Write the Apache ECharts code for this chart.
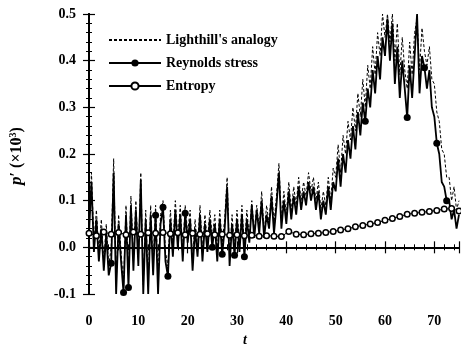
<!DOCTYPE html>
<html>
<head>
<meta charset="utf-8">
<script src="https://cdn.jsdelivr.net/npm/echarts@6/dist/echarts.min.js"></script>
<style>
  html, body { margin: 0; padding: 0; background: #fff; }
  #chart { width: 461px; height: 347px; }
</style>
</head>
<body>
<div id="chart"></div>
<script>
// Time grid of the fluctuation signals (t = 0 .. 75)
const signalStart = 0;
const signalStep = 0.5;

// Lighthill's analogy (dashed)
const lighthill = [
  0.04, 0.16, 0.01, 0.08, -0.01, 0.06, -0.03, 0.05, -0.04, 0.00,
  0.19, -0.08, 0.07, -0.01, -0.08, 0.09, -0.06, 0.11, -0.03, 0.10,
  -0.02, 0.16, -0.08, 0.08, -0.08, 0.09, -0.04, 0.09, -0.07, 0.07,
  0.10, -0.01, -0.04, 0.08, 0.00, 0.10, 0.02, 0.09, -0.01, 0.09,
  0.03, 0.08, -0.03, 0.06, 0.00, 0.09, -0.01, 0.07, 0.01, 0.08,
  0.02, 0.07, -0.01, 0.08, 0.01, 0.06, 0.15, -0.02, 0.07, 0.00,
  0.08, 0.01, 0.09, 0.00, 0.08, 0.02, 0.10, 0.03, 0.09, 0.04,
  0.12, 0.03, 0.09, 0.05, 0.13, 0.05, 0.11, 0.18, 0.06, 0.12,
  0.07, 0.14, 0.08, 0.13, 0.09, 0.15, 0.10, 0.14, 0.11, 0.16,
  0.12, 0.15, 0.10, 0.14, 0.08, 0.12, 0.09, 0.15, 0.10, 0.17,
  0.15, 0.22, 0.16, 0.24, 0.20, 0.27, 0.23, 0.30, 0.25, 0.33,
  0.28, 0.36, 0.30, 0.39, 0.34, 0.43, 0.37, 0.46, 0.41, 0.50,
  0.45, 0.50, 0.44, 0.50, 0.40, 0.48, 0.37, 0.45, 0.38, 0.34,
  0.44, 0.37, 0.46, 0.49, 0.38, 0.47, 0.42, 0.39, 0.43, 0.36,
  0.35, 0.29, 0.27, 0.21, 0.20, 0.15, 0.15, 0.10, 0.13, 0.08,
  0.10
];

// Reynolds stress (solid with filled markers)
const reynolds = [
  0.03, 0.14, -0.01, 0.06, -0.03, 0.04, -0.05, 0.03, -0.06, -0.034,
  0.16, -0.10, 0.05, -0.03, -0.097, 0.07, -0.086, 0.09, -0.05, 0.08,
  -0.04, 0.145, -0.10, 0.06, -0.10, 0.07, -0.06, 0.069, -0.10, 0.05,
  0.086, -0.03, -0.062, 0.06, -0.02, 0.08, 0.00, 0.07, -0.03, 0.073,
  0.01, 0.06, -0.05, 0.04, -0.02, 0.07, -0.03, 0.05, -0.01, 0.06,
  0.00, 0.05, -0.03, 0.06, -0.015, 0.04, 0.13, -0.04, 0.05, -0.017,
  0.06, -0.01, 0.07, -0.02, 0.06, 0.01, 0.09, 0.02, 0.08, 0.03,
  0.10, 0.02, 0.07, 0.04, 0.11, 0.03, 0.09, 0.16, 0.04, 0.10,
  0.05, 0.12, 0.06, 0.11, 0.07, 0.13, 0.08, 0.12, 0.09, 0.14,
  0.10, 0.13, 0.08, 0.12, 0.06, 0.10, 0.07, 0.13, 0.08, 0.14,
  0.12, 0.19, 0.13, 0.20, 0.16, 0.23, 0.19, 0.26, 0.21, 0.29,
  0.24, 0.31, 0.27, 0.34, 0.30, 0.38, 0.33, 0.41, 0.36, 0.45,
  0.41, 0.49, 0.40, 0.48, 0.35, 0.43, 0.32, 0.40, 0.34, 0.278,
  0.39, 0.32, 0.41, 0.50, 0.33, 0.41, 0.385, 0.34, 0.38, 0.30,
  0.28, 0.223, 0.20, 0.14, 0.13, 0.10, 0.10, 0.06, 0.08, 0.04,
  0.07
];

// Times at which the Reynolds-stress curve carries a filled marker
const reynoldsMarkerTimes = [4.5, 7, 8, 13.5, 15, 16, 19.5, 25, 27, 29.5, 31.5, 56, 64.5, 68, 70.5, 72.5];

// Entropy contribution (open circles), sampled every 1.5
const entropyStart = 0;
const entropyStep = 1.5;
const entropy = [
  0.030, 0.025, 0.033, 0.028, 0.032, 0.027, 0.033, 0.028, 0.031, 0.030,
  0.032, 0.029, 0.031, 0.027, 0.030, 0.028, 0.029, 0.027, 0.028, 0.026,
  0.027, 0.025, 0.026, 0.024, 0.025, 0.024, 0.023, 0.034, 0.028, 0.027,
  0.029, 0.030, 0.032, 0.034, 0.037, 0.040, 0.044, 0.047, 0.050, 0.053,
  0.058, 0.062, 0.066, 0.071, 0.073, 0.075, 0.077, 0.079, 0.082, 0.083,
  0.078
];

// Axis ticks
const xTicks = { min: 0, max: 75, interval: 10 };
const yTicks = { min: -0.1, max: 0.5, interval: 0.1 };

const SERIF = '"Liberation Serif", "DejaVu Serif", serif';

function toPairs(values, start, step) {
  return values.map((v, i) => [start + i * step, v]);
}

const markerSet = new Set(reynoldsMarkerTimes.map(t => Math.round((t - signalStart) / signalStep)));
const reynoldsData = reynolds.map((v, i) => ({
  value: [signalStart + i * signalStep, v],
  symbol: markerSet.has(i) ? 'circle' : 'none'
}));

const chart = echarts.init(document.getElementById('chart'), null, { renderer: 'canvas' });

const tickCommon = {
  axisLine: { show: true, lineStyle: { color: '#000', width: 2 } },
  axisTick: { show: true, inside: true, length: 6, lineStyle: { color: '#000', width: 1.2 } },
  minorTick: { show: true, splitNumber: 5, length: 3, lineStyle: { color: '#000', width: 1 } },
  splitLine: { show: false },
  minorSplitLine: { show: false }
};

chart.setOption({
  animation: false,
  backgroundColor: '#fff',
  grid: { left: 89, right: 2, top: 14, bottom: 53, containLabel: false },
  legend: {
    left: 108,
    top: 33,
    padding: 0,
    orient: 'vertical',
    itemWidth: 52,
    itemHeight: 9,
    itemGap: 9,
    textStyle: { fontFamily: SERIF, fontSize: 14, fontWeight: 'bold', color: '#000', lineHeight: 14 },
    data: [
      { name: "Lighthill's analogy", itemStyle: { opacity: 0 } },
      { name: 'Reynolds stress' },
      { name: 'Entropy' }
    ]
  },
  xAxis: [
    Object.assign({
      type: 'value',
      position: 'bottom',
      min: xTicks.min, max: xTicks.max, interval: xTicks.interval,
      axisLabel: {
        show: true, margin: 20, showMaxLabel: false,
        fontFamily: SERIF, fontSize: 14, fontWeight: 'bold', color: '#000'
      }
    }, tickCommon),
    Object.assign({
      type: 'value',
      position: 'top',
      min: xTicks.min, max: xTicks.max, interval: xTicks.interval,
      axisLabel: { show: false }
    }, tickCommon)
  ],
  yAxis: [
    Object.assign({
      type: 'value',
      position: 'left',
      min: yTicks.min, max: yTicks.max, interval: yTicks.interval,
      axisLabel: {
        show: true, margin: 13,
        fontFamily: SERIF, fontSize: 14, fontWeight: 'bold', color: '#000',
        formatter: v => v.toFixed(1)
      }
    }, tickCommon),
    Object.assign({
      type: 'value',
      position: 'right',
      min: yTicks.min, max: yTicks.max, interval: yTicks.interval,
      axisLabel: { show: false }
    }, tickCommon)
  ],
  graphic: [
    {
      type: 'text',
      x: 245, y: 340,
      style: {
        text: 't', fontFamily: SERIF, fontSize: 14, fontStyle: 'italic', fontWeight: 'bold',
        fill: '#000', align: 'center', verticalAlign: 'middle'
      }
    },
    {
      type: 'text',
      x: 17, y: 156,
      rotation: Math.PI / 2,
      style: {
        text: '{i|p}′ (×10{s|3})',
        fontFamily: SERIF, fontSize: 16, fontWeight: 'bold',
        fill: '#000', align: 'center', verticalAlign: 'middle',
        rich: {
          i: { fontFamily: SERIF, fontSize: 17, fontStyle: 'italic', fontWeight: 'bold' },
          s: { fontFamily: SERIF, fontSize: 10, fontWeight: 'bold', verticalAlign: 'top', padding: [0, 0, 8, 0] }
        }
      }
    }
  ],
  series: [
    {
      name: "Lighthill's analogy",
      type: 'line',
      data: toPairs(lighthill, signalStart, signalStep),
      symbol: 'none',
      lineStyle: { color: '#000', width: 1, type: [3, 2] },
      itemStyle: { color: '#000' },
      z: 2
    },
    {
      name: 'Reynolds stress',
      type: 'line',
      data: reynoldsData,
      symbol: 'circle',
      symbolSize: 7,
      showSymbol: true,
      showAllSymbol: true,
      lineStyle: { color: '#000', width: 1.8 },
      itemStyle: { color: '#000' },
      z: 3
    },
    {
      name: 'Entropy',
      type: 'line',
      data: toPairs(entropy, entropyStart, entropyStep),
      symbol: 'circle',
      symbolSize: 5.5,
      showAllSymbol: true,
      lineStyle: { color: '#000', width: 1 },
      itemStyle: { color: '#fff', borderColor: '#000', borderWidth: 1.5 },
      z: 4
    }
  ]
});
</script>
</body>
</html>
